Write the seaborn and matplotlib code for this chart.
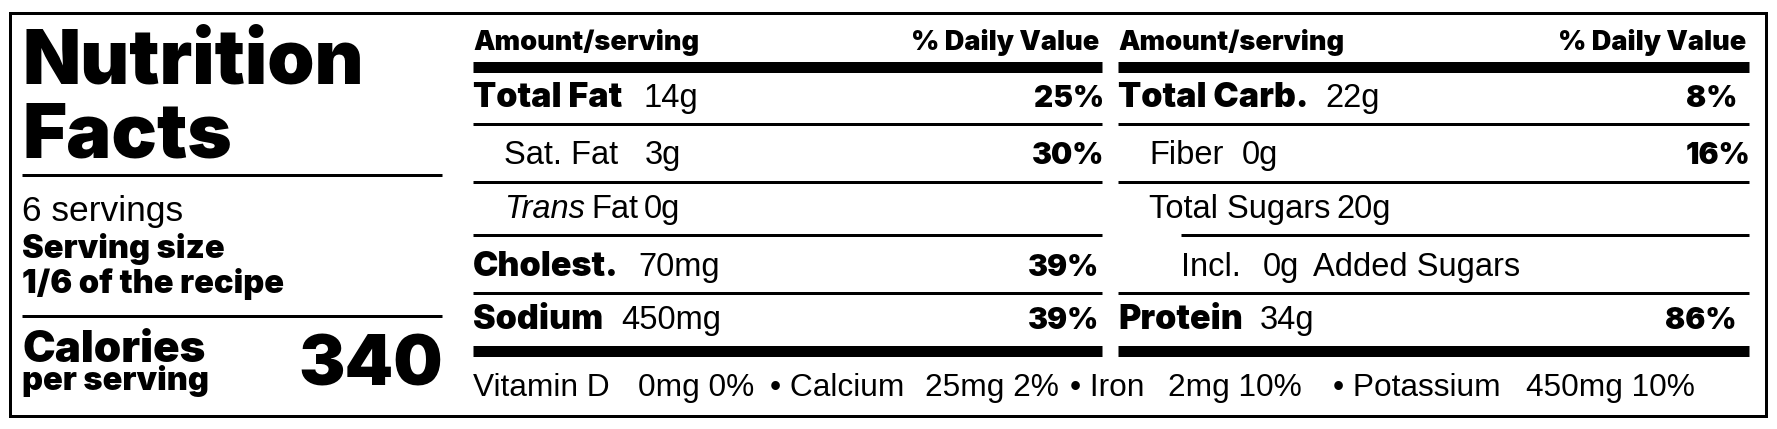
import matplotlib
matplotlib.use("Agg")
import matplotlib.pyplot as plt
from matplotlib.patches import Rectangle
import seaborn as sns
import pandas as pd

# ---------------- data ----------------
title_lines = ["Nutrition", "Facts"]
servings_text = "6 servings"
serving_size_label = "Serving size"
serving_size_value = "1/6 of the recipe"
calories_label = "Calories"
calories_sub = "per serving"
calories_value = "340"

header_left = "Amount/serving"
header_right = "% Daily Value"

left_names = ["Total Fat", "Sat. Fat", "Trans Fat", "Cholest.", "Sodium"]
left_amounts = ["14g", "3g", "0g", "70mg", "450mg"]
left_dv = ["25%", "30%", "", "39%", "39%"]
left_bold = [True, False, False, True, True]
left_indent = [0, 1, 1, 0, 0]

right_names = ["Total Carb.", "Fiber", "Total Sugars", "Added Sugars", "Protein"]
right_amounts = ["22g", "0g", "20g", "0g", "34g"]
right_dv = ["8%", "16%", "", "", "86%"]
right_bold = [True, False, False, False, True]
right_indent = [0, 1, 1, 2, 0]

vit_names = ["Vitamin D", "Calcium", "Iron", "Potassium"]
vit_amounts = ["0mg", "25mg", "2mg", "450mg"]
vit_dv = ["0%", "2%", "10%", "10%"]

# ---------------- style ----------------
sns.set_theme(style="white")
plt.rcParams["font.family"] = ["Liberation Sans", "DejaVu Sans"]
plt.rcParams["text.color"] = "black"

W, H = 1777, 429
fig = plt.figure(figsize=(W / 100, H / 100), dpi=100)
fig.patch.set_facecolor("white")
ax = fig.add_axes([0, 0, 1, 1])
ax.set_xlim(0, W)
ax.set_ylim(H, 0)
ax.axis("off")
renderer = fig.canvas.get_renderer()


def pt(px):
    return px * 72.0 / 100.0


HEAVY = dict(family=["Inter", "DejaVu Sans"], weight=900)
REG = dict(family=["Liberation Sans", "DejaVu Sans"], weight="normal")
ITAL = dict(family=["Liberation Sans", "DejaVu Sans"], weight="normal", style="italic")


def txt(x, y, s, size, style, ha="left"):
    return ax.text(x, y, s, fontsize=size, ha=ha, va="baseline", color="black", **style)


def x_end(t):
    bb = t.get_window_extent(renderer=renderer)
    return ax.transData.inverted().transform((bb.x1, bb.y0))[0]


def hrule(y, x0, x1, thick_px):
    ax.hlines(y, x0, x1, colors="black", linewidth=pt(thick_px), capstyle="butt")


# outer border
ax.add_patch(Rectangle((10, 13), 1756, 403, fill=False, ec="black", lw=pt(3)))

# ---------------- left block ----------------
LX = 22
txt(LX, 84, title_lines[0], 54.5, HEAVY)
txt(LX, 157, title_lines[1], 54.5, HEAVY)
hrule(175, 22, 442, 3)
txt(LX, 221, servings_text, 25.5, REG)
txt(LX, 258, serving_size_label, 23.5, HEAVY)
txt(LX, 293, serving_size_value, 23.5, HEAVY)
hrule(316, 22, 442, 3)
txt(LX, 362, calories_label, 31.5, HEAVY)
txt(LX, 390, calories_sub, 23.5, HEAVY)
txt(443, 385, calories_value, 50, HEAVY, ha="right")

# ---------------- nutrient columns ----------------
REG_SIZE = 23.5
BOLD_SIZE = 24.5
DV_SIZE = 21.5
row_base = [107, 164, 218, 276, 329]
row_rules = [124, 182, 235, 293]
cols = [
    dict(x0=473, x1=1102, names=left_names, amts=left_amounts, dv=left_dv,
         bold=left_bold, ind=left_indent,
         amt_x=[643, 645, 0, 638, 621], dv_x=[1104, 1104, 0, 1099, 1099]),
    dict(x0=1118, x1=1749, names=right_names, amts=right_amounts, dv=right_dv,
         bold=right_bold, ind=right_indent,
         amt_x=[1325, 1242, 0, 1263, 1260], dv_x=[1737, 1750, 0, 0, 1737]),
]
indent_px = [0, 31, 63]
for c in cols:
    df = pd.DataFrame(dict(name=c["names"], amt=c["amts"], dv=c["dv"], bold=c["bold"], ind=c["ind"]))
    txt(c["x0"], 50, header_left, 19.5, HEAVY)
    txt(c["x1"] - 3, 50, header_right, 19.5, HEAVY, ha="right")
    hrule(66.5, c["x0"], c["x1"], 11)
    hrule(351, c["x0"], c["x1"], 11)
    for i, r in df.iterrows():
        y = row_base[i]
        x = c["x0"] + indent_px[r["ind"]]
        ax_pos = c["amt_x"][i]
        if r["bold"]:
            t = txt(x, y, r["name"], BOLD_SIZE, HEAVY)
            txt(max(ax_pos, x_end(t) + 7), y, r["amt"], REG_SIZE, REG)
        elif r["name"].startswith("Trans"):
            t = txt(x, y, "Trans", REG_SIZE, ITAL)
            t = txt(x_end(t) + 6, y, r["name"].split(" ", 1)[1], REG_SIZE, REG)
            txt(x_end(t) + 6, y, r["amt"], REG_SIZE, REG)
        elif r["name"] == "Added Sugars":
            t = txt(x, y, "Incl.", REG_SIZE, REG)
            t = txt(max(ax_pos, x_end(t) + 12), y, r["amt"], REG_SIZE, REG)
            txt(x_end(t) + 14, y, r["name"], REG_SIZE, REG)
        elif r["name"].startswith("Total"):
            t = txt(x, y, r["name"], REG_SIZE, REG)
            txt(x_end(t) + 6, y, r["amt"], REG_SIZE, REG)
        else:
            t = txt(x, y, r["name"], REG_SIZE, REG)
            txt(max(ax_pos, x_end(t) + 10), y, r["amt"], REG_SIZE, REG)
        if r["dv"]:
            txt(c["dv_x"][i], y, r["dv"], DV_SIZE, HEAVY, ha="right")
    for j, yr in enumerate(row_rules):
        xs = c["x0"] + (indent_px[2] if df["ind"].iloc[j + 1] == 2 else 0)
        hrule(yr, xs, c["x1"], 3)

# ---------------- footer ----------------
name_x = [473, 770, 1070, 1333]
amt_x = [638, 925, 1168, 1526]
for k in range(len(vit_names)):
    label = vit_names[k] if k == 0 else "\u2022 " + vit_names[k]
    txt(name_x[k], 396, label, 22.8, REG)
    txt(amt_x[k], 396, f"{vit_amounts[k]} {vit_dv[k]}", 22.8, REG)

fig.savefig("out.png", dpi=100, facecolor="white")
